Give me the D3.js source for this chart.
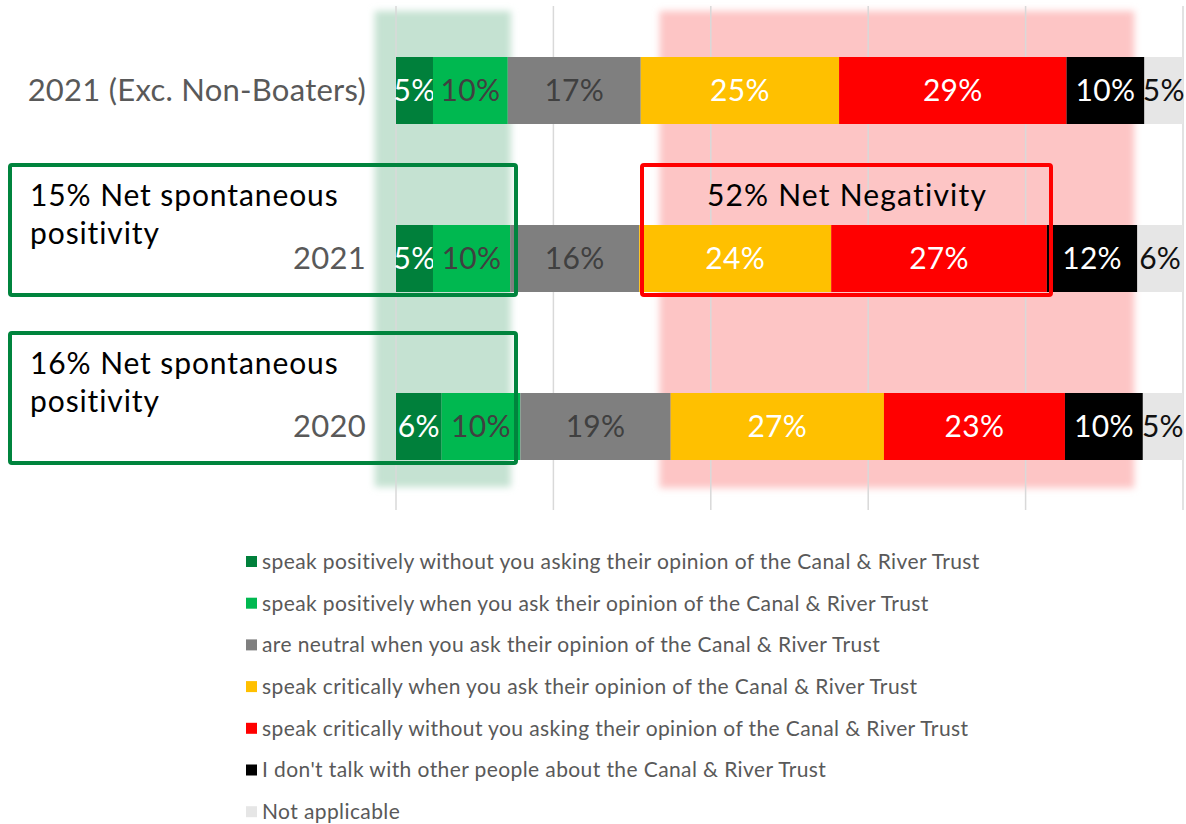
<!DOCTYPE html>
<html>
<head>
<meta charset="utf-8">
<script src="https://cdn.jsdelivr.net/npm/d3@7"></script>
<style>
    html, body { margin: 0; padding: 0; background: #ffffff; }
    svg { display: block; font-family: "Lato", "Noto Sans", sans-serif; }
</style>
</head>
<body>
<div id="chart"></div>
<script>
// data
const categories = ["2021 (Exc. Non-Boaters)", "2021", "2020"];
const seriesNames = [
    "speak positively without you asking their opinion of the Canal & River Trust",
    "speak positively when you ask their opinion of the Canal & River Trust",
    "are neutral when you ask their opinion of the Canal & River Trust",
    "speak critically when you ask their opinion of the Canal & River Trust",
    "speak critically without you asking their opinion of the Canal & River Trust",
    "I don't talk with other people about the Canal & River Trust",
    "Not applicable"
];
const values2021Exc = [4.7, 9.5, 16.9, 25.2, 28.9, 9.9, 4.9];
const values2021 = [4.7, 9.8, 16.4, 24.4, 27.4, 11.5, 5.8];
const values2020 = [5.8, 10.0, 19.1, 27.1, 23.0, 9.9, 5.1];
const xTicks = [0, 20, 40, 60, 80, 100];
const netPositive = [null, "15% Net spontaneous|positivity", "16% Net spontaneous|positivity"];
const netNegativeLabel = "52% Net Negativity";

const colors = ["#00803b", "#00b850", "#7f7f7f", "#ffc000", "#ff0000", "#000000", "#e6e6e6"];
const labelColors = ["#ffffff", "#404040", "#404040", "#ffffff", "#ffffff", "#ffffff", "#111111"];

let prop_width = 1186;
let prop_height = 824;
let prop_values = [values2021Exc, values2021, values2020];

let svg = d3.select("#chart")
    .append("svg")
    .attr("width", prop_width)
    .attr("height", prop_height);

let x = d3.scaleLinear().domain([0, 100]).range([396, 1183]);
let y = d3.scalePoint().domain(categories).range([90.5, 426.5]);
let barH = 67;

let defs = svg.append("defs");
defs.append("filter")
    .attr("id", "soft")
    .attr("x", "-10%").attr("y", "-10%")
    .attr("width", "120%").attr("height", "120%")
    .append("feGaussianBlur")
    .attr("stdDeviation", 3.5);

// highlight columns behind the bars
let g_bg = svg.append("g");
g_bg.append("rect")
    .attr("x", x(-2.7))
    .attr("y", 11)
    .attr("width", x(14.6) - x(-2.7))
    .attr("height", 476)
    .attr("fill", "#c5e2d2")
    .attr("filter", "url(#soft)");
g_bg.append("rect")
    .attr("x", x(33.5))
    .attr("y", 11)
    .attr("width", x(93.8) - x(33.5))
    .attr("height", 477)
    .attr("fill", "#fdc5c5")
    .attr("filter", "url(#soft)");

// gridlines
svg.append("g")
    .selectAll("line")
    .data(xTicks)
    .join("line")
    .attr("x1", d => x(d))
    .attr("x2", d => x(d))
    .attr("y1", 6)
    .attr("y2", 510)
    .attr("stroke", "#d9d9d9")
    .attr("stroke-width", 1.5);

// stacked bars
let stackRows = categories.map((c, i) => {
    let row = { cat: c };
    seriesNames.forEach((s, j) => { row[s] = prop_values[i][j]; });
    return row;
});
let stacked = d3.stack().keys(seriesNames)(stackRows);

let g_bars = svg.append("g");
stacked.forEach((layer, j) => {
    let g_layer = g_bars.append("g");
    g_layer.selectAll("rect")
        .data(layer)
        .join("rect")
        .attr("x", d => x(d[0]))
        .attr("y", d => y(d.data.cat) - barH / 2)
        .attr("width", d => x(d[1]) - x(d[0]))
        .attr("height", barH)
        .attr("fill", colors[j]);
    g_layer.selectAll("text")
        .data(layer)
        .join("text")
        .attr("x", d => (x(d[0]) + x(d[1])) / 2)
        .attr("y", d => y(d.data.cat))
        .attr("dy", "0.35em")
        .attr("text-anchor", "middle")
        .style("font-size", "30px")
        .style("letter-spacing", "0.3px")
        .style("fill", labelColors[j])
        .text(d => Math.round(d[1] - d[0]) + "%");
});

// category labels
svg.append("g")
    .selectAll("text")
    .data(categories)
    .join("text")
    .attr("x", 366)
    .attr("y", d => y(d))
    .attr("dy", "0.35em")
    .attr("text-anchor", "end")
    .style("font-size", "31px")
    .style("letter-spacing", "0.25px")
    .style("fill", "#595959")
    .text(d => d);

// net positivity boxes
let g_net = svg.append("g");
categories.forEach((c, i) => {
    if (netPositive[i] == null) return;
    let cy = y(c);
    g_net.append("rect")
        .attr("x", 10)
        .attr("y", cy - 93.5)
        .attr("width", 506)
        .attr("height", 130)
        .attr("rx", 2)
        .attr("fill", "none")
        .attr("stroke", "#00843d")
        .attr("stroke-width", 4);
    let t = g_net.append("text")
        .attr("x", 30)
        .attr("y", cy - 53)
        .style("font-size", "30px")
        .style("letter-spacing", "0.9px")
        .style("fill", "#000000");
    netPositive[i].split("|").forEach((line, k) => {
        t.append("tspan")
            .attr("x", 30)
            .attr("dy", k === 0 ? 0 : 38)
            .text(line);
    });
});

// net negativity box
let cy2 = y(categories[1]);
g_net.append("rect")
    .attr("x", 642)
    .attr("y", cy2 - 93.5)
    .attr("width", 409)
    .attr("height", 130)
    .attr("rx", 2)
    .attr("fill", "none")
    .attr("stroke", "#ff0000")
    .attr("stroke-width", 4);
g_net.append("text")
    .attr("x", 847)
    .attr("y", cy2 - 53)
    .attr("text-anchor", "middle")
    .style("font-size", "30px")
    .style("letter-spacing", "1.2px")
    .style("fill", "#000000")
    .text(netNegativeLabel);

// legend
let g_legend = svg.append("g").attr("transform", "translate(246,0)");
let legendRows = g_legend.selectAll("g")
    .data(seriesNames)
    .join("g")
    .attr("transform", (d, i) => "translate(0," + (561.5 + i * 41.7) + ")");
legendRows.append("rect")
    .attr("x", 0)
    .attr("y", -5.5)
    .attr("width", 11)
    .attr("height", 11)
    .attr("fill", (d, i) => colors[i]);
legendRows.append("text")
    .attr("x", 16)
    .attr("dy", "0.35em")
    .style("font-size", "21px")
    .style("letter-spacing", "0.4px")
    .style("fill", "#595959")
    .text(d => d);
</script>
</body>
</html>
